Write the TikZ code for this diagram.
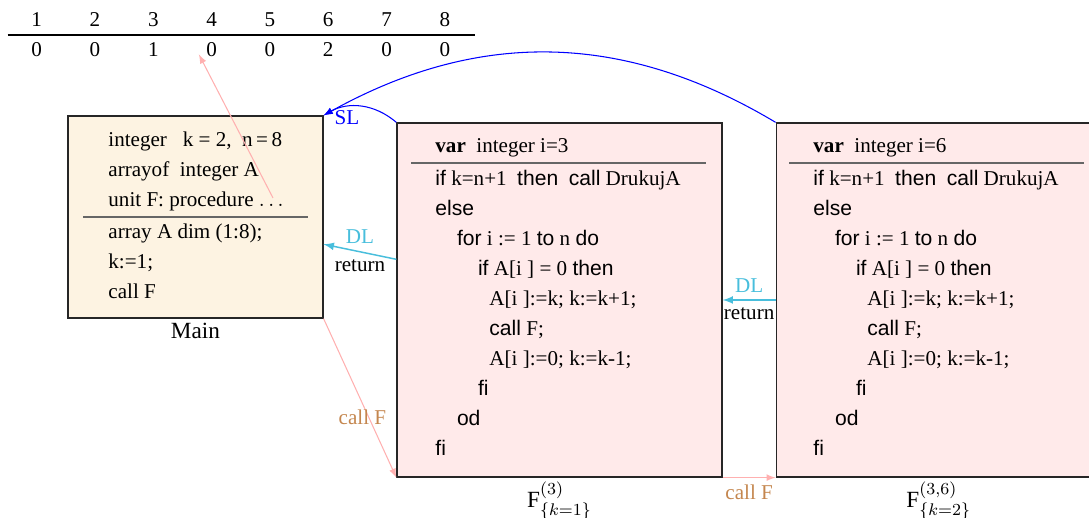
\documentclass[tikz,border=0pt]{standalone}
\usepackage[no-math]{fontspec}
\setmainfont{Liberation Serif}
\setsansfont{Liberation Sans}
\usetikzlibrary{positioning}
\definecolor{mainfill}{RGB}{253,243,226}
\definecolor{ffill}{RGB}{255,234,234}
\definecolor{dlcyan}{RGB}{72,190,220}
\definecolor{callbrown}{RGB}{196,134,78}
\definecolor{pinkline}{RGB}{255,176,176}
\newcommand{\kw}[1]{\textsf{#1}}
\begin{document}
\begin{tikzpicture}[>=latex,
    box/.style={draw=black!85, line width=0.6pt, inner sep=0pt},
    mainbox/.style={box, fill=mainfill, minimum width=4.25cm, minimum height=3.367cm},
    fbox/.style={box, fill=ffill, minimum width=5.417cm, minimum height=5.9cm},
    code/.style={anchor=base west, inner sep=0pt},
    sep/.style={black!60, line width=0.8pt},
    lbl/.style={font=\fontsize{11}{13}\selectfont, inner sep=1pt},
    sl/.style={->, blue, line width=0.5pt},
    dl/.style={->, dlcyan, line width=0.7pt},
    callarr/.style={->, pinkline, line width=0.5pt}]
    \useasboundingbox (0,0) rectangle (18.15,8.617);
    % Array A
    \foreach \x/\v in {1/0,2/0,3/1,4/0,5/0,6/2,7/0,8/0} {
        \node[anchor=base] (idx\x) at ({0.611+0.972*(\x-1)},8.183) {\x};
        \node[anchor=base] (val\x) at ({0.611+0.972*(\x-1)},7.672) {\v};
    }
    \draw[line width=0.6pt] (0.128,8.033) -- (7.917,8.033);
    % Boxes
    \node[mainbox] (main) at (3.258,5.0) {};
    \node[fbox] (f1) at (9.325,3.617) {};
    \node[fbox, right=0.883cm of f1] (f2) {};
    \node[lbl, below=1pt of main] (mainlbl) {Main};
    \node[lbl, below=1pt of f1] (f1lbl) {F$^{(3)}_{\{k=1\}}$};
    \node[lbl, below=1pt of f2] (f2lbl) {F$^{(3,6)}_{\{k=2\}}$};
    % Main
    \node[code] (m1) at (1.8,6.167) {integer\ \ \ k = 2,\ \ n\,=\,8};
    \node[code] (m2) at (1.8,5.683) {arrayof\ \ integer A};
    \node[code] (m3) at (1.8,5.183) {unit F: procedure $\ldots$};
    \draw[sep] (1.388,5.005) -- (5.138,5.005);
    \node[code] (m4) at (1.8,4.65) {array A dim (1:8);};
    \node[code] (m5) at (1.8,4.15) {k:=1;};
    \node[code] (m6) at (1.8,3.65) {call F};
    % F, first call
    \node[code] (a1) at (7.25,6.067) {\textbf{var}\ \ integer i=3};
    \draw[sep] (6.85,5.895) -- (11.767,5.895);
    \node[code] (a2) at (7.25,5.533) {\kw{if} k=n+1\ \ \kw{then}\ \ \kw{call} DrukujA};
    \node[code] (a3) at (7.25,5.033) {\kw{else}};
    \node[code] (a4) at (7.61,4.533) {\kw{for} i := 1 \kw{to} n \kw{do}};
    \node[code] (a5) at (7.96,4.033) {\kw{if} A[i ] = 0 \kw{then}};
    \node[code] (a6) at (8.15,3.533) {A[i ]:=k; k:=k+1;};
    \node[code] (a7) at (8.15,3.017) {\kw{call} F;};
    \node[code] (a8) at (8.15,2.517) {A[i ]:=0; k:=k-1;};
    \node[code] (a9) at (7.96,2.017) {\kw{fi}};
    \node[code] (a10) at (7.61,1.517) {\kw{od}};
    \node[code] (a11) at (7.25,1.017) {\kw{fi}};
    % F, second call
    \node[code] (b1) at (13.55,6.067) {\textbf{var}\ \ integer i=6};
    \draw[sep] (13.15,5.895) -- (18.067,5.895);
    \node[code] (b2) at (13.55,5.533) {\kw{if} k=n+1\ \ \kw{then}\ \ \kw{call} DrukujA};
    \node[code] (b3) at (13.55,5.033) {\kw{else}};
    \node[code] (b4) at (13.91,4.533) {\kw{for} i := 1 \kw{to} n \kw{do}};
    \node[code] (b5) at (14.26,4.033) {\kw{if} A[i ] = 0 \kw{then}};
    \node[code] (b6) at (14.45,3.533) {A[i ]:=k; k:=k+1;};
    \node[code] (b7) at (14.45,3.017) {\kw{call} F;};
    \node[code] (b8) at (14.45,2.517) {A[i ]:=0; k:=k-1;};
    \node[code] (b9) at (14.26,2.017) {\kw{fi}};
    \node[code] (b10) at (13.91,1.517) {\kw{od}};
    \node[code] (b11) at (13.55,1.017) {\kw{fi}};
    % Static links
    \draw[sl] (f1.north west) to[bend right=35] (main.north east);
    \draw[sl] (f2.north west) to[bend right=30] (main.north east);
    \node[text=blue, anchor=west, inner sep=1pt] (sl) at ([xshift=4pt,yshift=-1pt]main.north east) {SL};
    % Dynamic links
    \draw[dl] (f1.166.8) -- node[midway, above, text=dlcyan] (dl1) {DL}
        node[midway, below, text=black] (ret1) {return} (main.-12.8);
    \draw[dl] (f2.west) -- node[midway, above, text=dlcyan] (dl2) {DL}
        node[midway, below, text=black] (ret2) {return} (f1.east);
    % Calls
    \draw[callarr] (main.south east) -- node[pos=0.62, xshift=-3pt, text=callbrown] (call1) {call F} (f1.south west);
    \draw[callarr] (f1.south east) -- node[midway, below, text=callbrown] (call2) {call F} (f2.south west);
    \coordinate (Aref) at (4.55,5.317);
    \draw[callarr] (Aref) -- (val4.200);
\end{tikzpicture}
\end{document}
